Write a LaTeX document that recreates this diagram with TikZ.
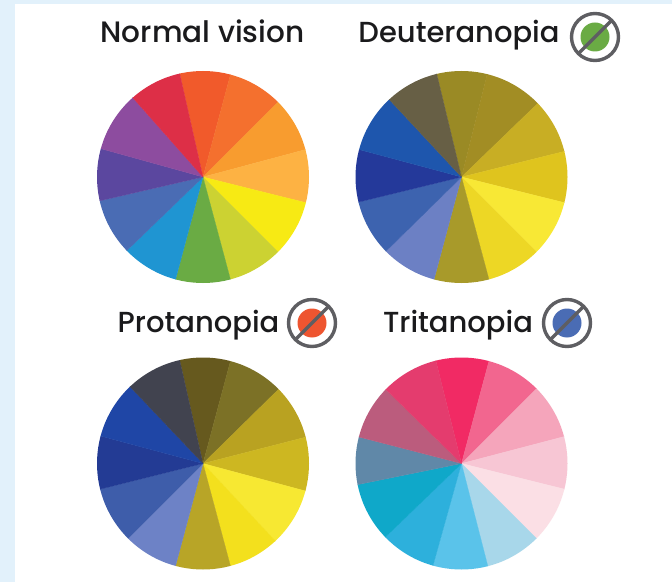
\documentclass[tikz,border=0pt]{standalone}
\usepackage{fontspec}
\setmainfont{Poppins Medium}
\definecolor{ringgray}{HTML}{5E5E62}
\definecolor{inkblack}{HTML}{1A1A1C}
\definecolor{bandblue}{HTML}{E2F1FB}
\definecolor{discgreen}{HTML}{6AAB44}
\definecolor{discred}{HTML}{EE5530}
\definecolor{discblue}{HTML}{4A6CB4}
\newcommand{\wheelat}[3]{%
  \begin{scope}[shift={(#1,582-#2)}]
    \clip (0,0) circle (106);
    \foreach \aa/\bb/\cc in {#3}{
      \definecolor{slice}{HTML}{\cc}
      \pgfmathsetmacro{\mm}{(\aa+\bb)/2}
      \fill[slice,draw=slice,line width=0.25pt] (0,0) -- (\aa:130) -- (\mm:130) -- (\bb:130) -- cycle;
    }
  \end{scope}}
\newcommand{\banicon}[3]{%
  \begin{scope}[shift={(#1,582-#2)}]
    \fill[#3] (0,0) circle (14.5);
    \draw[ringgray,line width=3.4pt] (0,0) circle (23.5);
    \draw[ringgray,line width=3.2pt] (-17,-17) -- (17,17);
  \end{scope}}
\tikzset{title/.style={font=\fontsize{29}{30}\selectfont,text=inkblack,anchor=base,inner sep=0pt}}
\begin{document}
\begin{tikzpicture}[x=1pt,y=1pt]
\useasboundingbox (0,0) rectangle (672,582);
\fill[bandblue] (0,0) rectangle (672,582);
\fill[white] (15,0) rectangle (672,578);
\wheelat{203}{177}{102.7/75/F15A2B,75/45/F4702E,45/15/F89C2F,15/-14/FDB243,-14/-45/F7EA14,-45/-75/CCD232,-75/-105/6AAB44,-105/-136/1F95D2,-136/-167/4A6CB4,-167/-195.5/5B479F,-195.5/-228.5/8D4C9F,-228.5/-257.3/DD2F47}
\wheelat{461.5}{177}{103.5/76/9A8A25,76/44/A28D24,44/14/C8AE24,14/-14/DFC41E,-14/-45/F8E835,-45/-75/EDD725,-75/-105/A89A2A,-105/-135.5/6C80C4,-135.5/-166.3/3D63AF,-166.3/-195/24399A,-195/-227/1E56AD,-227/-256.5/675F45}
\wheelat{203}{463.5}{102.7/75/66591E,75/44.5/7C7126,44.5/14.4/B9A221,14.4/-15/CDB721,-15/-47/F7E832,-47/-75/F3E01D,-75/-105/B8A527,-105/-135/6D82C6,-135/-166/3E5DAA,-166/-195/233B94,-195/-226.5/1F46A6,-226.5/-257.3/41434F}
\wheelat{461.5}{463.5}{104/75/F12A64,75/45/F2668F,45/14.7/F5A5BB,14.7/-14/F7C6D4,-14/-45/FBDFE5,-45/-75.6/A8D7EA,-75.6/-105.6/5AC3EA,-105.6/-136/2DB0DC,-136/-168.5/0FA8C9,-168.5/-194.5/6088A8,-194.5/-224.4/BB5C7D,-224.4/-256/E43C6E}
\node[title,font=\fontsize{29.5}{30}\selectfont] (normal) at (202.5,582-43) {Normal vision};
\node[title] (deuter) at (459,582-43) {Deuteranopia};
\node[title] (protan) at (198.5,582-332) {Protanopia};
\node[title] (tritan) at (458,582-332) {Tritanopia};
\banicon{595}{37}{discgreen}
\banicon{312}{323}{discred}
\banicon{567}{323}{discblue}
\end{tikzpicture}
\end{document}
